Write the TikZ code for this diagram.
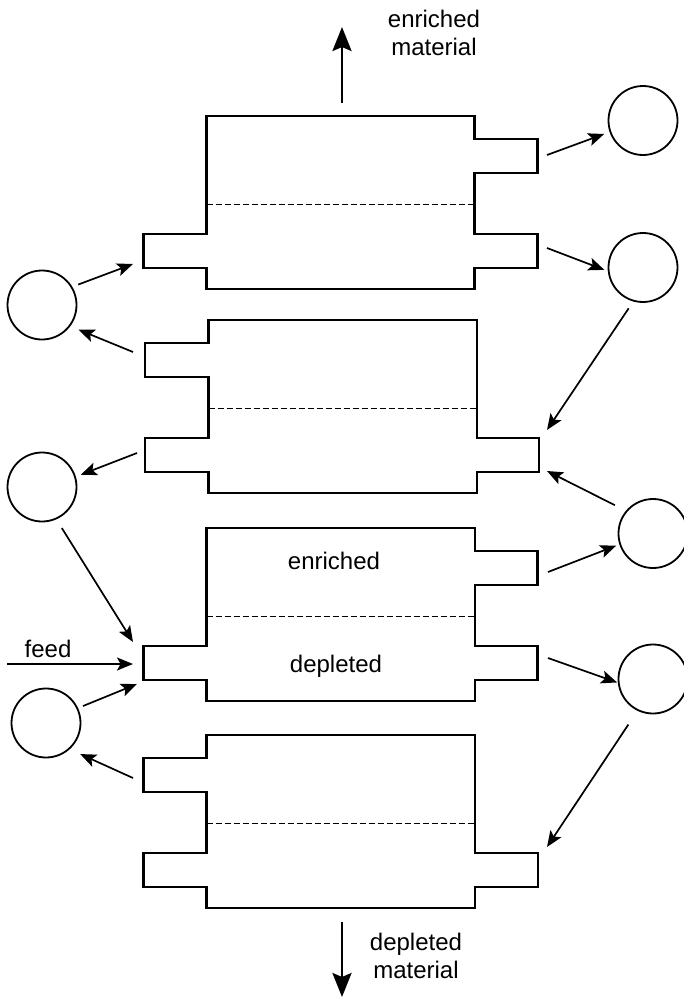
\documentclass[tikz,border=0pt]{standalone}
\usepackage{fontspec}
\setmainfont{Liberation Sans}
\usetikzlibrary{arrows.meta}
\newcommand{\stgR}[5]{% stage with upper stub on the right
  \draw[wall] (#2,#1) -- (#3,#1) -- (#3,#1+23) -- (#5,#1+23) -- (#5,#1+57) -- (#3,#1+57)
    -- (#3,#1+118) -- (#5,#1+118) -- (#5,#1+152) -- (#3,#1+152) -- (#3,#1+173)
    -- (#2,#1+173) -- (#2,#1+152) -- (#4,#1+152) -- (#4,#1+118) -- (#2,#1+118) -- cycle;
  \draw[sepline] (#2,#1+88.5) -- (#3,#1+88.5);}
\newcommand{\stgL}[5]{% stage with upper stub on the left
  \draw[wall] (#2,#1) -- (#3,#1) -- (#3,#1+118) -- (#5,#1+118) -- (#5,#1+152) -- (#3,#1+152)
    -- (#3,#1+173) -- (#2,#1+173) -- (#2,#1+152) -- (#4,#1+152) -- (#4,#1+118) -- (#2,#1+118)
    -- (#2,#1+57) -- (#4,#1+57) -- (#4,#1+23) -- (#2,#1+23) -- cycle;
  \draw[sepline] (#2,#1+88.5) -- (#3,#1+88.5);}
\begin{document}
\begin{tikzpicture}[x=1pt,y=-1pt,
  wall/.style={line width=2.2pt, line join=miter},
  sepline/.style={line width=1.7pt, dash pattern=on 6pt off 3pt},
  tank/.style={circle, draw, line width=1.8pt, minimum size=69pt, inner sep=0pt},
  conn/.style={line width=1.7pt, -{Stealth[length=16pt,width=13pt,inset=3.5pt]}},
  bigarrow/.style={line width=2.8pt, -{Stealth[length=24pt,width=19pt,inset=4pt]}},
  lbl/.style={font=\fontsize{24}{28}\selectfont, inner sep=0pt, align=center}
]
\useasboundingbox (0,0) rectangle (683,998);

% stages
\stgR{116}{206.5}{474.5}{143.5}{537.5}
\stgL{320}{208.5}{477}{145}{539}
\stgR{528}{206.5}{475}{143.5}{537.5}
\stgL{735}{206.5}{475}{143.5}{538}

% circles
\node[tank] (C1) at (643,120.5) {};
\node[tank] (C2) at (643,267.5) {};
\node[tank] (C3) at (42,305) {};
\node[tank] (C4) at (42,487) {};
\node[tank] (C5) at (653,533.5) {};
\node[tank] (C6) at (653,679) {};
\node[tank] (C7) at (46,723) {};

% ports
\coordinate (p1a) at (547,155);
\coordinate (p1b) at (547,248);
\coordinate (p1c) at (133,264);
\coordinate (p2a) at (133,352);
\coordinate (p2b) at (547,430);
\coordinate (p2c) at (137,453);
\coordinate (p2d) at (547,471);
\coordinate (p3a) at (133,642);
\coordinate (feedIn) at (7,664);
\coordinate (p3b) at (133,664);
\coordinate (p3c) at (137,684);
\coordinate (p3d) at (548,572);
\coordinate (p3e) at (548,658);
\coordinate (p4a) at (133,778);
\coordinate (p4b) at (547,847);
\coordinate (topOut) at (342,103);
\coordinate (topTip) at (342,27);
\coordinate (botOut) at (342,922);
\coordinate (botTip) at (342,997);

% connectors
\draw[conn, shorten >=5.7pt] (p1a) -- (C1.199);
\draw[conn, shorten >=3.7pt] (p1b) -- (C2.186);
\draw[conn, shorten <=6.3pt] (C3.31) -- (p1c);
\draw[conn, shorten >=9pt] (p2a) -- (C3.-37);
\draw[conn, shorten <=8.2pt] (C2.254) -- (p2b);
\draw[conn, shorten >=5.3pt] (p2c) -- (C4.17.5);
\draw[conn, shorten <=12.4pt] (C5.140) -- (p2d);
\draw[conn, shorten <=10.3pt] (C4.-66) -- (p3a);
\draw[conn] (feedIn) -- (p3b);
\draw[conn, shorten <=5.3pt] (C7.25) -- (p3c);
\draw[conn, shorten >=3.4pt] (p3d) -- (C5.198);
\draw[conn, shorten >=0.7pt] (p3e) -- (C6.186.5);
\draw[conn, shorten >=11.5pt] (p4a) -- (C7.-48);
\draw[conn, shorten <=16.5pt] (C6.244) -- (p4b);
\draw[bigarrow] (topOut) -- (topTip);
\draw[bigarrow] (botOut) -- (botTip);

% labels
\node[lbl, anchor=north] (tText) at (434,10) {enriched\\material};
\node[lbl, anchor=north] (bText) at (416,933) {depleted\\material};
\node[lbl, anchor=base] (enr) at (334,569) {enriched};
\node[lbl, anchor=base] (dep) at (336,672) {depleted};
\node[lbl, anchor=base] (feed) at (48,657) {feed};
\end{tikzpicture}
\end{document}
